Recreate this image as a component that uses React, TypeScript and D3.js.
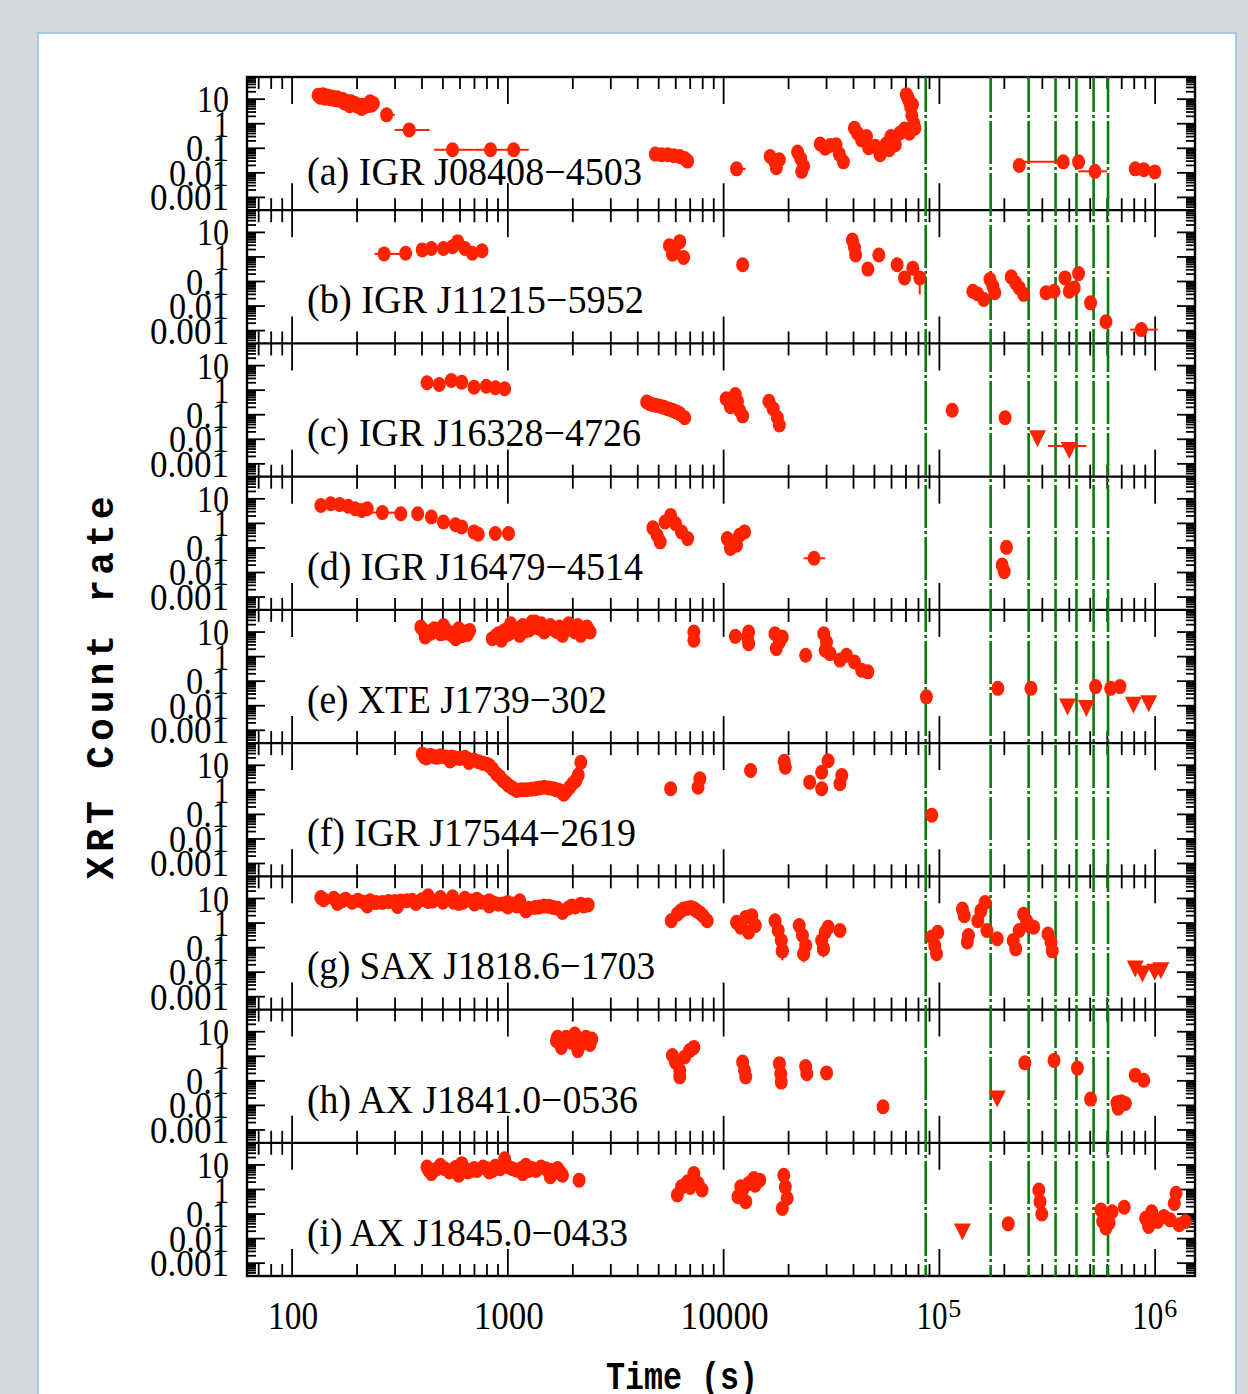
import React from "react";
import * as d3 from "d3";

// ---------- data ----------
const sourceNames = [
  "(a) IGR J08408\u22124503",
  "(b) IGR J11215\u22125952",
  "(c) IGR J16328\u22124726",
  "(d) IGR J16479\u22124514",
  "(e) XTE J1739\u2212302",
  "(f) IGR J17544\u22122619",
  "(g) SAX J1818.6\u22121703",
  "(h) AX J1841.0\u22120536",
  "(i) AX J1845.0\u22120433",
];

const dayLines = [86400, 172800, 259200, 345600, 432000, 518400, 604800];
const timeTicks = [100, 1000, 10000, 100000, 1000000];
const timeTickLabels = ["100", "1000", "10000", "10^5", "10^6"];
const rateTicks = [10, 1, 0.1, 0.01, 0.001];
const rateTickLabels = ["10", "1", "0.1", "0.01", "0.001"];

type P = [number, number];
type XE = [number, number, number, number]; // time, rate, tLo, tHi
type YE = [number, number, number, number]; // time, rate, rLo, rHi

// (a) IGR J08408-4503
const ptsA: P[] = [
  [132, 14.5], [139, 15.3], [146, 13.6], [153, 12.4], [162, 11.3], [171, 10], [179, 8.3], [188, 7.8],
  [196, 6.7], [207, 5.7], [217, 4.9], [223, 6.1], [230, 7.8], [238, 6.7], [210, 4.2], [185, 5.4],
  [135, 12], [142, 11], [150, 10.5], [158, 9.5], [165, 9], [175, 7], [182, 6.5], [192, 6], [200, 5.2],
  [215, 5.5], [228, 5.5], [234, 5.8],
  [4823, 0.058], [5150, 0.055], [5500, 0.055], [5870, 0.05], [6260, 0.046], [6600, 0.038], [6810, 0.03],
  [16430, 0.046], [17300, 0.028], [18130, 0.034], [17550, 0.016],
  [22030, 0.07], [22750, 0.038], [23500, 0.0185], [23000, 0.0115],
  [28030, 0.15], [29550, 0.1], [31100, 0.13],
  [33200, 0.14], [34400, 0.058], [35900, 0.028],
  [40400, 0.66], [41700, 0.41], [43600, 0.22], [45900, 0.3], [47000, 0.105],
  [50400, 0.12], [53100, 0.055],
  [56600, 0.15], [59600, 0.3], [62500, 0.14], [65500, 0.41], [68900, 0.61], [58500, 0.087],
  [70300, 15.3], [71500, 12], [72100, 9.1], [73600, 4.9], [74500, 2.2], [76100, 1.03], [77000, 0.66], [72600, 0.41], [75000, 6],
  [234500, 0.02], [441700, 0.028],
  [808500, 0.0145], [885700, 0.0135], [996000, 0.0109],
];
const xerrA: XE[] = [
  [274, 2.3, 259, 299], [349, 0.56, 299, 434],
  [554, 0.087, 455, 700], [831, 0.087, 700, 960], [1064, 0.087, 960, 1250],
  [11480, 0.0145, 10760, 12650],
  [374900, 0.028, 234500, 380000], [526000, 0.0115, 440000, 600000],
];

// (b) IGR J11215-5952
const ptsB: P[] = [
  [336, 1.42], [401, 1.94], [442, 2.22], [503, 2.22], [554, 2.6], [585, 4.2], [632, 2.22], [684, 1.42], [759, 1.78],
  [5610, 2.89], [5910, 1.94], [6260, 4.2], [6520, 0.96], [5790, 1.29],
  [12250, 0.48],
  [39500, 4.9], [40400, 2.4], [40900, 1.2],
  [46600, 0.32], [52400, 1.2], [63700, 0.48], [68900, 0.14], [75300, 0.35],
  [142900, 0.04], [150600, 0.031], [160600, 0.0185],
  [171500, 0.12], [177000, 0.064], [180600, 0.035],
  [215300, 0.155], [225800, 0.087], [234500, 0.055], [245700, 0.03],
  [312000, 0.035], [340000, 0.04],
  [382000, 0.14], [400000, 0.04], [421600, 0.055], [441700, 0.21],
  [502000, 0.0135], [591500, 0.0023],
];
const xerrB: XE[] = [
  [267, 1.33, 241, 319],
  [863000, 0.0011, 767000, 1028000],
];
const yerrB: YE[] = [[81100, 0.14, 0.03, 0.2]];

// (c) IGR J16328-4726
const ptsC: P[] = [
  [422, 2.0], [481, 1.7], [547, 2.48], [611, 2.12], [697, 1.33], [794, 1.45], [875, 1.25], [966, 1.14],
  [4400, 0.33], [4700, 0.255], [5080, 0.22], [5500, 0.177], [5870, 0.145], [6260, 0.111], [6600, 0.075],
  [4550, 0.28], [4900, 0.24], [5300, 0.2], [5700, 0.16], [6050, 0.13],
  [10270, 0.45], [10760, 0.21], [11330, 0.66], [11850, 0.152], [12250, 0.09], [11000, 0.3], [11600, 0.35],
  [16220, 0.35], [16960, 0.177], [17760, 0.075], [18130, 0.038],
  [114600, 0.152], [201700, 0.075],
];
const ulC: XE[] = [
  [285000, 0.0109, 285000, 285000],
  [400000, 0.0037, 318600, 480000],
];

// (d) IGR J16479-4514
const ptsD: P[] = [
  [136, 5.38], [151, 6.28], [166, 5.9], [182, 5.0], [196, 3.94], [210, 3.38], [223, 3.94], [319, 2.48],
  [382, 2.48], [442, 1.82], [503, 1.14], [572, 0.88], [611, 0.72], [697, 0.45], [729, 0.36], [875, 0.385], [1007, 0.385],
  [4700, 0.66], [4920, 0.33], [5350, 1.14], [5680, 2.12], [5980, 0.98], [6380, 0.45], [6810, 0.24], [5080, 0.177],
  [10400, 0.24], [11110, 0.177], [11850, 0.33], [12500, 0.45], [10760, 0.095], [11480, 0.13],
  [204600, 0.106], [195400, 0.02], [199800, 0.0109],
];
const xerrD: XE[] = [
  [262, 2.75, 230, 300],
  [26250, 0.038, 23500, 29550],
];

// (e) XTE J1739-302
const ptsE: P[] = [
  [395, 15.9], [427, 10], [456, 13.6], [487, 8.57], [520, 11.7], [554, 7.33], [592, 13.6], [632, 10], [665, 11.7],
  [414, 6.28], [573, 5.38], [503, 18.6], [440, 9], [610, 7],
  [405, 12], [445, 11], [470, 12], [500, 9], [530, 9], [560, 9], [600, 10], [650, 8], [420, 9],
  [847, 5.38], [904, 8.57], [966, 11.7], [1064, 13.6], [1172, 18.6], [1294, 25.4], [1427, 21.7], [1573, 18.6],
  [1734, 15.9], [1913, 21.7], [2110, 18.6], [2326, 15.9], [2404, 10], [934, 4.61], [1135, 7.33], [1474, 10],
  [1792, 7.33], [2178, 7.33], [1030, 21.7], [1337, 25.4], [1250, 12], [1650, 12], [2000, 12], [1000, 8],
  [880, 7], [950, 9], [1100, 10], [1200, 11], [1300, 15], [1400, 14], [1500, 13], [1600, 15], [1700, 10],
  [1850, 12], [1950, 14], [2050, 10], [2250, 11], [2350, 13], [1150, 15], [1050, 10],
  [7280, 10], [7280, 4.61], [11330, 6.7], [13060, 10], [13060, 3.38], [12900, 6.5],
  [17300, 8.57], [18130, 3.94], [18710, 6.28], [17550, 2.12],
  [24000, 1.14],
  [29100, 8.57], [30000, 3.94], [31100, 1.33], [29550, 1.82],
  [34600, 0.72], [40400, 0.61], [43600, 0.28], [46600, 0.24], [37100, 1.14],
  [87100, 0.023], [186700, 0.051], [265700, 0.051],
  [529700, 0.06], [622000, 0.051], [687000, 0.06],
];
const ulE: XE[] = [
  [392600, 0.0093, 392600, 392600], [480000, 0.008, 480000, 480000],
  [793000, 0.0109, 793000, 793000], [933400, 0.0127, 933400, 933400],
];

// (f) IGR J17544-2619
const ptsF: P[] = [
  [401, 28.7], [427, 24.6], [456, 22.4], [487, 24.6], [520, 21], [572, 19.8], [632, 21], [697, 16.4],
  [767, 12], [820, 9.7], [886, 4.46], [948, 2.4], [1007, 1.52], [1099, 0.95], [1212, 1.0], [1337, 1.1],
  [1474, 1.28], [1625, 1.1], [1734, 0.95], [1817, 0.66], [1935, 1.28], [2070, 2.4], [2178, 13.2],
  [420, 20], [540, 15], [660, 13],
  [410, 22], [440, 25], [470, 21], [500, 23], [550, 22], [600, 19], [650, 18], [730, 14], [800, 11],
  [850, 7], [920, 3.3], [980, 1.9], [1050, 1.2], [1150, 1.0], [1280, 1.05], [1400, 1.2], [1550, 1.2],
  [1680, 1.0], [1780, 0.8], [1870, 0.9], [2000, 1.8], [2120, 4],
  [5680, 1.1], [7760, 2.8], [7610, 1.28], [13330, 6.1], [19080, 14.5], [19320, 8.3],
  [25050, 2.06], [28470, 5.2], [30500, 15.3], [28470, 1.1], [34600, 1.76], [35300, 3.8],
  [92200, 0.093],
];

// (g) SAX J1818.6-1703
const ptsG: P[] = [
  [136, 10.9], [156, 10.3], [177, 9.4], [202, 8.57], [230, 8.05], [262, 6.9], [299, 7.55], [340, 8.05],
  [375, 6.28], [427, 12.8], [487, 10.9], [554, 11.7], [632, 10.3], [719, 9.4], [820, 8.05], [904, 5.9],
  [998, 6.9], [1099, 5.0], [1212, 3.15], [1337, 4.3], [1474, 5.0], [1625, 4.3], [1792, 2.7], [1976, 5.0],
  [2178, 5.9], [2357, 5.5],
  [162, 6.28], [223, 5.0], [308, 4.7], [592, 6.28], [820, 5.0], [427, 7.55], [1135, 8.05], [700, 6], [1000, 4.5],
  [140, 9], [170, 8], [190, 7], [215, 7], [245, 6.8], [280, 7.5], [320, 8], [360, 8.5], [400, 9], [450, 8],
  [500, 7], [560, 7], [620, 7], [680, 8], [760, 7], [860, 6.5], [950, 6], [1050, 6], [1150, 5], [1250, 4],
  [1400, 4.5], [1550, 4.8], [1700, 4], [1900, 4], [2050, 4.5], [2250, 5],
  [5720, 1.25], [6100, 2.3], [6520, 3.7], [7050, 4.3], [7520, 3.15], [8010, 2.0], [8390, 1.25],
  [6300, 3], [6800, 4], [7300, 3.8], [7800, 2.5],
  [11480, 1.07], [12000, 0.68], [12660, 1.7], [13500, 2.0], [14020, 0.79], [13060, 0.42],
  [17300, 1.25], [17900, 0.5], [18500, 0.195], [18710, 0.074],
  [22400, 0.79], [23200, 0.31], [24000, 0.12], [23500, 0.056],
  [28470, 0.195], [29550, 0.42], [30500, 0.68], [29000, 0.089],
  [34600, 0.5],
  [92200, 0.27], [95200, 0.12], [97000, 0.056], [98300, 0.42],
  [127900, 3.7], [130400, 2.0], [136400, 0.31], [134700, 0.17],
  [150600, 1.25], [155600, 3.15], [162900, 6.9], [166100, 0.5], [185400, 0.23],
  [219800, 0.195], [225800, 0.089], [234500, 0.5], [245700, 2.3], [253600, 1.25], [262000, 0.79], [273600, 0.68],
  [318500, 0.36], [329100, 0.17], [333500, 0.074],
];
const yerrG: YE[] = [
  [18710, 0.074, 0.03, 0.074], [23500, 0.056, 0.025, 0.056], [29000, 0.089, 0.04, 0.089],
];
const ulG: XE[] = [
  [808500, 0.014, 808500, 808500], [873000, 0.0088, 873000, 873000],
  [996000, 0.0103, 996000, 996000], [1063000, 0.012, 1063000, 1063000],
];

// (h) AX J1841.0-0536
const ptsH: P[] = [
  [1679, 4.3], [1770, 2.3], [1860, 5.9], [1976, 3.7], [2042, 8.05], [2150, 2.7], [2250, 5.0], [2357, 3.7],
  [2450, 5.0], [2110, 1.7],
  [1700, 6], [1800, 4], [1900, 4.5], [2000, 6], [2200, 4], [2300, 6], [2400, 3], [1750, 3.5],
  [5790, 1.07], [5980, 0.58], [6260, 0.27], [6260, 0.145], [6600, 0.94], [6960, 1.7], [7280, 2.3],
  [12250, 0.58], [12500, 0.27], [12660, 0.145],
  [18130, 0.5], [18400, 0.195], [18500, 0.089],
  [24000, 0.385], [24300, 0.195],
  [30000, 0.21],
  [54800, 0.0088],
  [248800, 0.54], [340000, 0.68], [436400, 0.33],
  [502000, 0.018],
  [665000, 0.0127], [697000, 0.014], [728000, 0.012], [674000, 0.0077],
  [808500, 0.17], [885700, 0.106],
];
const ulH: XE[] = [[185400, 0.019, 185400, 185400]];

// (i) AX J1845.0-0433
const ptsI: P[] = [
  [422, 8.3], [456, 6.1], [487, 9.7], [537, 5.2], [572, 7.8], [611, 11.3], [652, 5.2], [697, 7.1], [767, 8.3],
  [820, 5.2], [875, 8.8], [966, 18], [1007, 8.3], [1099, 6.1], [1212, 9.7], [1294, 7.1], [1427, 8.3], [1573, 6.1],
  [1700, 7.1], [1792, 3.8], [442, 4.45], [592, 3.8], [1172, 4.45], [1573, 3.3],
  [430, 6], [470, 7], [510, 7], [550, 6], [630, 7], [680, 6], [720, 6], [800, 7], [850, 6], [920, 7],
  [1050, 7], [1150, 7], [1250, 6], [1350, 6], [1500, 7], [1650, 5], [1750, 5],
  [2138, 2.4],
  [6100, 0.6], [6380, 1.28], [6810, 2.06], [7280, 4.45], [7610, 1.76], [7950, 0.95], [6600, 1.5], [7000, 1.2],
  [11650, 0.51], [12250, 0.95], [13060, 1.76], [13800, 2.8], [14700, 2.4], [12660, 0.32], [12000, 1.3], [14000, 1.5],
  [19000, 3.8], [19320, 1.28], [19700, 0.44], [18710, 0.17],
  [208500, 0.04],
  [288900, 0.95], [292600, 0.32], [298300, 0.1],
  [561000, 0.148], [571000, 0.05], [591500, 0.027], [631400, 0.124], [719000, 0.19], [612000, 0.043],
  [903000, 0.067], [964000, 0.124], [1028000, 0.05], [1098000, 0.079], [1172000, 0.058], [1227000, 0.27],
  [1250000, 0.7], [1292000, 0.037], [1380000, 0.05], [933000, 0.031],
];
const ulI: XE[] = [[127900, 0.0194, 127900, 127900]];

const panels = [
  { pts: ptsA, xerr: xerrA, yerr: [] as YE[], ul: [] as XE[] },
  { pts: ptsB, xerr: xerrB, yerr: yerrB, ul: [] as XE[] },
  { pts: ptsC, xerr: [] as XE[], yerr: [] as YE[], ul: ulC },
  { pts: ptsD, xerr: xerrD, yerr: [] as YE[], ul: [] as XE[] },
  { pts: ptsE, xerr: [] as XE[], yerr: [] as YE[], ul: ulE },
  { pts: ptsF, xerr: [] as XE[], yerr: [] as YE[], ul: [] as XE[] },
  { pts: ptsG, xerr: [] as XE[], yerr: yerrG, ul: ulG },
  { pts: ptsH, xerr: [] as XE[], yerr: [] as YE[], ul: ulH },
  { pts: ptsI, xerr: [] as XE[], yerr: [] as YE[], ul: ulI },
];

// ---------- layout ----------
const W = 1248, H = 1394;
const LEFT = 247, RIGHT = 1195, TOP = 77, BOTTOM = 1276;
const RED = "#ff2200";
const GREEN = "#0b7a0b";
const labelWidths = [335, 337, 334, 336, 300, 329, 348, 331, 321];
const rateLabelWidths = [32, 15, 43, 60, 79];
const SERIF = "'Liberation Serif', 'DejaVu Serif', serif";
const MONO = "'Liberation Mono', 'DejaVu Sans Mono', monospace";

export default function App() {
  const x = d3.scaleLog().domain([61.8, 1.53e6]).range([LEFT, RIGHT]);
  const ph = (BOTTOM - TOP) / panels.length;
  const xTicks = x.ticks();
  const isDecade = (v: number) => Math.abs(Math.log10(v) - Math.round(Math.log10(v))) < 1e-6;

  const elements: React.ReactNode[] = [];

  panels.forEach((p, i) => {
    const pTop = TOP + i * ph;
    const pBot = pTop + ph;
    const y = d3.scaleLog().domain([3e-4, 80]).range([pBot, pTop]);
    const yTicks = y.ticks();
    const g: React.ReactNode[] = [];

    xTicks.forEach((t, k) => {
      const xx = x(t);
      if (xx < LEFT + 1 || xx > RIGHT - 1) return;
      const len = isDecade(t) ? 27 : 12;
      g.push(<line key={`xt${k}`} x1={xx} x2={xx} y1={pTop} y2={pTop + len} stroke="#000" strokeWidth={1.8} />);
      g.push(<line key={`xb${k}`} x1={xx} x2={xx} y1={pBot} y2={pBot - len} stroke="#000" strokeWidth={1.8} />);
    });
    yTicks.forEach((v, k) => {
      const yy = y(v);
      if (yy < pTop + 0.5 || yy > pBot - 0.5) return;
      const len = isDecade(v) ? 18 : 9;
      g.push(<line key={`yl${k}`} x1={LEFT} x2={LEFT + len} y1={yy} y2={yy} stroke="#000" strokeWidth={1.8} />);
      g.push(<line key={`yr${k}`} x1={RIGHT} x2={RIGHT - len} y1={yy} y2={yy} stroke="#000" strokeWidth={1.8} />);
    });
    g.push(<line key="pb" x1={LEFT} x2={RIGHT} y1={pBot} y2={pBot} stroke="#000" strokeWidth={2.2} />);

    rateTicks.forEach((v, k) => {
      g.push(
        <text key={`yl-${k}`} x={229} y={y(v) + 13} textAnchor="end" fontFamily={SERIF} fontSize={38}
          textLength={rateLabelWidths[k]} lengthAdjust="spacingAndGlyphs" fill="#000">
          {rateTickLabels[k]}
        </text>
      );
    });

    g.push(
      <text key="lab" x={307} y={pTop + (i === 0 ? 108 : 103)} fontFamily={SERIF} fontSize={40}
        textLength={labelWidths[i]} lengthAdjust="spacingAndGlyphs" fill="#000">
        {sourceNames[i]}
      </text>
    );

    elements.push(<g key={`panel${i}`}>{g}</g>);
  });

  const green = dayLines.map((t, k) => (
    <line key={`d${k}`} x1={x(t)} x2={x(t)} y1={TOP} y2={BOTTOM} stroke={GREEN} strokeWidth={2.6}
      strokeDasharray="43 3 3 3" strokeDashoffset={8} />
  ));

  const data: React.ReactNode[] = [];
  panels.forEach((p, i) => {
    const pTop = TOP + i * ph;
    const pBot = pTop + ph;
    const y = d3.scaleLog().domain([3e-4, 80]).range([pBot, pTop]);
    p.xerr.forEach(([t, r, lo, hi], k) => {
      data.push(<line key={`xe${i}-${k}`} x1={x(lo)} x2={x(hi)} y1={y(r)} y2={y(r)} stroke={RED} strokeWidth={2} />);
    });
    p.yerr.forEach(([t, r, lo, hi], k) => {
      data.push(<line key={`ye${i}-${k}`} x1={x(t)} x2={x(t)} y1={y(lo)} y2={y(hi)} stroke={RED} strokeWidth={2} />);
    });
    p.ul.forEach(([t, r, lo, hi], k) => {
      const cx = x(t), cy = y(r);
      if (lo !== hi) {
        data.push(<line key={`ule${i}-${k}`} x1={x(lo)} x2={x(hi)} y1={cy - 4} y2={cy - 4} stroke={RED} strokeWidth={2} />);
      }
      data.push(
        <path key={`ul${i}-${k}`} d={`M${cx - 8.5},${cy - 8} L${cx + 8.5},${cy - 8} L${cx},${cy + 9} Z`} fill={RED} />
      );
    });
    [...p.pts, ...p.xerr.map((d) => [d[0], d[1]] as P), ...p.yerr.map((d) => [d[0], d[1]] as P)].forEach(([t, r], k) => {
      data.push(<ellipse key={`pt${i}-${k}`} cx={x(t)} cy={y(r)} rx={6.5} ry={7.5} fill={RED} />);
    });
  });

  const xLabels = timeTicks.map((t, k) => {
    const xx = x(t);
    const lab = timeTickLabels[k];
    if (lab.includes("^")) {
      const [b, e] = lab.split("^");
      return (
        <g key={`xl${k}`}>
          <text x={xx + 8} y={1329} textAnchor="end" fontFamily={SERIF} fontSize={40}
            textLength={31} lengthAdjust="spacingAndGlyphs">{b}</text>
          <text x={xx + 9} y={1317} fontFamily={SERIF} fontSize={25}
            textLength={13} lengthAdjust="spacingAndGlyphs">{e}</text>
        </g>
      );
    }
    const widths: Record<string, number> = { "100": 50, "1000": 70, "10000": 88 };
    return (
      <text key={`xl${k}`} x={xx + 1} y={1329} textAnchor="middle" fontFamily={SERIF} fontSize={40}
        textLength={widths[lab]} lengthAdjust="spacingAndGlyphs">{lab}</text>
    );
  });

  return (
    <svg width={W} height={H} viewBox={`0 0 ${W} ${H}`}
      style={{ position: "absolute", left: 0, top: 0, display: "block" }}>
      <rect x={0} y={0} width={W} height={H} fill="#d7dadc" />
      <rect x={38} y={33} width={1198} height={1400} fill="#ffffff" stroke="#a6c6ea" strokeWidth={2} />
      <rect x={LEFT} y={TOP} width={RIGHT - LEFT} height={BOTTOM - TOP} fill="none" stroke="#000" strokeWidth={2.4} />
      {elements}
      {green}
      {data}
      {xLabels}
      <text transform="translate(113,688) rotate(-90)" textAnchor="middle" fontFamily={MONO} fontWeight="bold"
        fontSize={38} textLength={383} lengthAdjust="spacing">XRT Count rate</text>
      <text x={682} y={1389} textAnchor="middle" fontFamily={MONO} fontWeight="bold" fontSize={38}
        textLength={152} lengthAdjust="spacingAndGlyphs">Time (s)</text>
    </svg>
  );
}
